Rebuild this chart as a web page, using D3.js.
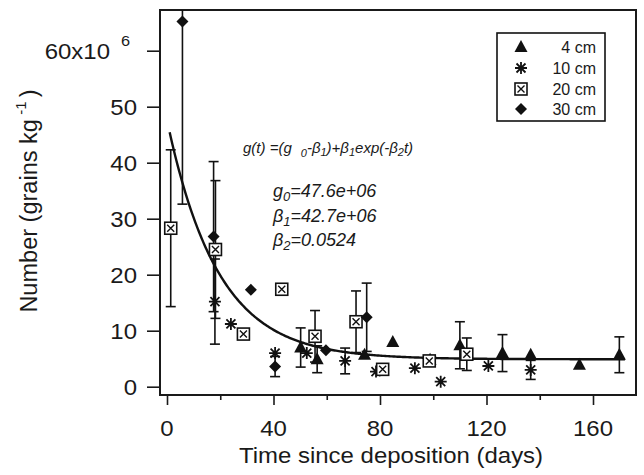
<!DOCTYPE html>
<html>
<head>
<meta charset="utf-8">
<script src="https://cdn.jsdelivr.net/npm/d3@7"></script>
<style>
  html, body { margin: 0; padding: 0; background: #fff; }
  svg { display: block; }
  text { font-family: "Liberation Sans", Arial, Helvetica, sans-serif; fill: #1a1a1a; }
</style>
</head>
<body>
<svg id="chart" width="644" height="475"></svg>
<script>
// Pollen grain counts by depth, with 1-sigma error bars (null = no bar)
const depth4Days  = [50.2, 56.4, 74.2, 84.8, 98.8, 110, 126, 136.6, 154.9, 169.9];
const depth4Vals  = [7.0, 4.9, 5.7, 8.0, 4.8, 7.4, 6.0, 5.7, 3.9, 5.7];
const depth4Errs  = [3.5, 2.4, null, null, null, 4.2, 3.3, null, null, 3.2];

const depth10Days = [18.0, 24.0, 40.6, 52.5, 66.9, 78.5, 93.1, 102.8, 120.7, 136.6];
const depth10Vals = [15.2, 11.2, 6.0, 6.0, 4.6, 2.7, 3.3, 0.9, 3.7, 3.0];
const depth10Errs = [7.6, null, null, null, 2.3, null, null, null, null, 1.7];

const depth20Days = [1.4, 18.2, 28.7, 43.1, 55.6, 71.0, 81.0, 98.5, 112.6];
const depth20Vals = [28.3, 24.5, 9.4, 17.4, 9.0, 11.6, 3.1, 4.6, 5.8];
const depth20Errs = [14.0, 12.3, null, null, 4.6, 5.5, null, null, 2.9];

const depth30Days = [5.8, 17.5, 31.5, 40.6, 59.7, 75.0];
const depth30Vals = [65.2, 26.8, 17.3, 3.6, 6.5, 12.4];
const depth30Errs = [32.6, 13.4, null, 1.8, null, 6.1];

// Fitted decay model g(t) = (g0 - b1) + b1 * exp(-b2 t), values in 10^6 grains/kg
const fitG0 = 47.6, fitB1 = 42.7, fitB2 = 0.0524;
const fitStart = 1, fitEnd = 172;

const xTicks = [0, 20, 40, 60, 80, 100, 120, 140, 160];
const xLabelTicks = [0, 40, 80, 120, 160];
const yTicks = [0, 10, 20, 30, 40, 50, 60];
const legendLabels = ["4 cm", "10 cm", "20 cm", "30 cm"];

const svg = d3.select("#chart");
const frame = { left: 160, right: 636, top: 10, bottom: 395 };
const wide = 1.09; // axis lettering is set slightly wide

const x = d3.scaleLinear().domain([0, 160]).range([167, 593]);
const y = d3.scaleLinear().domain([0, 60]).range([386.7, 50.7]);

svg.append("defs").append("clipPath").attr("id", "plotClip")
  .append("rect")
  .attr("x", frame.left).attr("y", frame.top)
  .attr("width", frame.right - frame.left).attr("height", frame.bottom - frame.top);

// Axes: y ticks outside left, x ticks below
const yAxis = d3.axisLeft(y).tickValues(yTicks).tickSize(13).tickFormat("");
svg.append("g").attr("transform", `translate(${frame.left},0)`).call(yAxis)
  .call(g => g.select(".domain").remove())
  .call(g => g.selectAll("line").attr("stroke", "#1a1a1a").attr("stroke-width", 1.6));

const xAxisMinor = d3.axisBottom(x).tickValues(xTicks.filter(t => !xLabelTicks.includes(t))).tickSize(5).tickFormat("");
svg.append("g").attr("transform", `translate(0,${frame.bottom})`).call(xAxisMinor)
  .call(g => g.select(".domain").remove())
  .call(g => g.selectAll("line").attr("stroke", "#1a1a1a").attr("stroke-width", 1.6));
const xAxisMajor = d3.axisBottom(x).tickValues(xLabelTicks).tickSize(10).tickFormat("");
svg.append("g").attr("transform", `translate(0,${frame.bottom})`).call(xAxisMajor)
  .call(g => g.select(".domain").remove())
  .call(g => g.selectAll("line").attr("stroke", "#1a1a1a").attr("stroke-width", 1.6));

// Wide text placed at an anchor point
function wideText(parent, px, py, anchor, size, str) {
  return parent.append("text")
    .attr("transform", `translate(${px},${py}) scale(${wide},1)`)
    .attr("text-anchor", anchor).attr("font-size", size).text(str);
}

// Tick labels
const yLab = svg.append("g");
yTicks.filter(t => t !== 60).forEach(t => wideText(yLab, 137, y(t) + 8, "end", 22, t));
wideText(yLab, 110, y(60) + 8, "end", 22, "60x10");
wideText(yLab, 121, y(60) - 5, "start", 15, "6");

const xLab = svg.append("g");
xLabelTicks.forEach(t => wideText(xLab, x(t), 436, "middle", 22, t));

// Axis titles
wideText(svg, 391, 463, "middle", 22, "Time since deposition (days)");

const yTitle = svg.append("text")
  .attr("transform", `translate(37,201) rotate(-90) scale(1.07,${wide})`)
  .attr("text-anchor", "middle").attr("font-size", 22);
yTitle.append("tspan").text("Number (grains kg");
yTitle.append("tspan").attr("dy", -10).attr("dx", 4).attr("font-size", 14).text("-1");
yTitle.append("tspan").attr("dy", 10).attr("dx", 4).text(")");

// Plot frame
svg.append("rect")
  .attr("x", frame.left).attr("y", frame.top)
  .attr("width", frame.right - frame.left).attr("height", frame.bottom - frame.top)
  .attr("fill", "none").attr("stroke", "#1a1a1a").attr("stroke-width", 2);

const plot = svg.append("g").attr("clip-path", "url(#plotClip)");

// Marker shapes
const ink = "#111";
function drawMarker(g, kind) {
  if (kind === 0) {
    g.append("path").attr("d", "M0,-7L6.5,5L-6.5,5Z").attr("fill", ink);
  } else if (kind === 1) {
    const r = 6;
    g.append("path")
      .attr("d", `M0,${-r}V${r}M${-r},0H${r}M${-r*0.75},${-r*0.75}L${r*0.75},${r*0.75}M${-r*0.75},${r*0.75}L${r*0.75},${-r*0.75}`)
      .attr("stroke", ink).attr("stroke-width", 1.8).attr("fill", "none");
  } else if (kind === 2) {
    g.append("rect").attr("x", -6).attr("y", -6).attr("width", 12).attr("height", 12)
      .attr("fill", "#fff").attr("stroke", ink).attr("stroke-width", 1.6);
    g.append("path").attr("d", "M-3.5,-3.5L3.5,3.5M-3.5,3.5L3.5,-3.5")
      .attr("stroke", ink).attr("stroke-width", 1.4);
  } else {
    g.append("path").attr("d", "M0,-6L6,0L0,6L-6,0Z").attr("fill", ink);
  }
}

const series = [
  { days: depth4Days,  vals: depth4Vals,  errs: depth4Errs,  kind: 0 },
  { days: depth10Days, vals: depth10Vals, errs: depth10Errs, kind: 1 },
  { days: depth20Days, vals: depth20Vals, errs: depth20Errs, kind: 2 },
  { days: depth30Days, vals: depth30Vals, errs: depth30Errs, kind: 3 }
];

// Error bars
const bars = plot.append("g").attr("stroke", ink).attr("stroke-width", 1.6).attr("fill", "none");
series.forEach(s => {
  s.days.forEach((d, i) => {
    const e = s.errs[i];
    if (e == null) return;
    const cx = x(d), y0 = y(s.vals[i] - e), y1 = y(s.vals[i] + e);
    bars.append("line").attr("x1", cx).attr("x2", cx).attr("y1", y0).attr("y2", y1);
    bars.append("line").attr("x1", cx - 5).attr("x2", cx + 5).attr("y1", y0).attr("y2", y0);
    bars.append("line").attr("x1", cx - 5).attr("x2", cx + 5).attr("y1", y1).attr("y2", y1);
  });
});

// Fitted curve
const fitT = d3.range(fitStart, fitEnd + 0.01, 0.5);
const fitLine = d3.line()
  .x(t => x(t))
  .y(t => y((fitG0 - fitB1) + fitB1 * Math.exp(-fitB2 * t)));
plot.append("path").datum(fitT).attr("d", fitLine)
  .attr("fill", "none").attr("stroke", ink).attr("stroke-width", 2.4);

// Markers
series.forEach(s => {
  s.days.forEach((d, i) => {
    const g = plot.append("g").attr("transform", `translate(${x(d)},${y(s.vals[i])})`);
    drawMarker(g, s.kind);
  });
});

// Equation annotation
const eq = svg.append("text").attr("x", 243).attr("y", 153)
  .attr("font-size", 15).attr("font-style", "italic");
eq.append("tspan").text("g(t) =(g");
eq.append("tspan").attr("dx", 9).attr("dy", 4).attr("font-size", 11).text("0");
eq.append("tspan").attr("dy", -4).text("-β");
eq.append("tspan").attr("dy", 3).attr("font-size", 11).text("1");
eq.append("tspan").attr("dy", -3).text(")+β");
eq.append("tspan").attr("dy", 3).attr("font-size", 11).text("1");
eq.append("tspan").attr("dy", -3).text("exp(-β");
eq.append("tspan").attr("dy", 3).attr("font-size", 11).text("2");
eq.append("tspan").attr("dy", -3).text("t)");

const params = [
  ["g", "0", "=47.6e+06", 197],
  ["β", "1", "=42.7e+06", 222],
  ["β", "2", "=0.0524", 246]
];
params.forEach(([sym, sub, rest, by]) => {
  const t = svg.append("text").attr("x", 273).attr("y", by)
    .attr("font-size", 18).attr("font-style", "italic");
  t.append("tspan").text(sym);
  t.append("tspan").attr("dy", 4).attr("font-size", 13).text(sub);
  t.append("tspan").attr("dy", -4).text(rest);
});

// Legend
const legend = svg.append("g");
legend.append("rect").attr("x", 497).attr("y", 33).attr("width", 108).attr("height", 88)
  .attr("fill", "#fff").attr("stroke", ink).attr("stroke-width", 1.6);
const legendY = [47, 68, 89, 109];
legendLabels.forEach((lab, i) => {
  const g = legend.append("g").attr("transform", `translate(521,${legendY[i]})`);
  drawMarker(g, i);
  legend.append("text").attr("x", 596).attr("y", legendY[i] + 6)
    .attr("text-anchor", "end").attr("font-size", 16).text(lab);
});
</script>
</body>
</html>
